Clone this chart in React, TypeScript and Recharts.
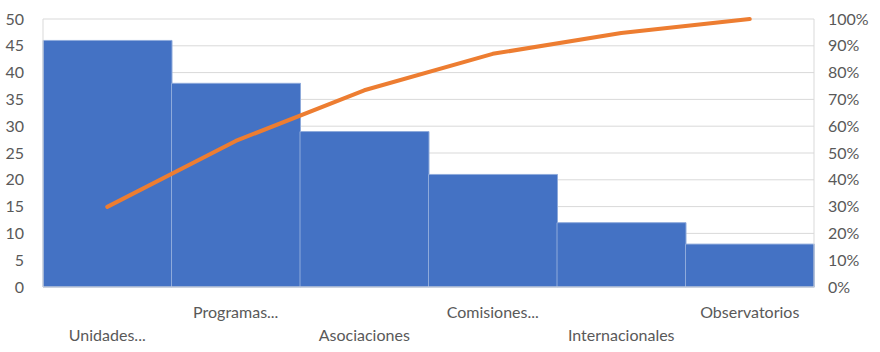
import { Bar, CartesianGrid, ComposedChart, Line, XAxis, YAxis } from 'recharts'

const categories = [
  'Unidades...',
  'Programas...',
  'Asociaciones',
  'Comisiones...',
  'Internacionales',
  'Observatorios',
]
const counts = [46, 38, 29, 21, 12, 8]
const cumulative = [0.299, 0.545, 0.734, 0.87, 0.948, 1.0]
const leftTicks = [0, 5, 10, 15, 20, 25, 30, 35, 40, 45, 50]
const rightTicks = [0, 0.1, 0.2, 0.3, 0.4, 0.5, 0.6, 0.7, 0.8, 0.9, 1]

const data = categories.map((name, i) => ({
  name,
  count: counts[i],
  cum: cumulative[i],
}))

const font = 'Lato, "Open Sans", sans-serif'

function StaggeredTick(props: any) {
  const { x, y, payload, index } = props
  const dy = index % 2 === 0 ? 42 : 19
  return (
    <text
      x={x}
      y={y + dy}
      textAnchor='middle'
      dominantBaseline='middle'
      fill='#595959'
      fontSize={16}
      fontFamily={font}
    >
      {payload.value}
    </text>
  )
}

export default function App() {
  return (
    <div style={{ position: 'absolute', left: 0, top: 0, background: '#fff' }}>
      <ComposedChart
        width={880}
        height={352}
        data={data}
        margin={{ top: 19, right: 0, left: 0, bottom: 0 }}
        barCategoryGap='0%'
      >
        <CartesianGrid
          yAxisId='left'
          vertical={false}
          stroke='#d9d9d9'
          strokeWidth={1}
        />
        <XAxis
          dataKey='name'
          tick={<StaggeredTick />}
          tickLine={false}
          axisLine={{ stroke: '#d9d9d9' }}
          interval={0}
          height={65}
        />
        <YAxis
          yAxisId='left'
          width={43}
          domain={[0, 50]}
          ticks={leftTicks}
          interval={0}
          tickLine={false}
          axisLine={{ stroke: '#d9d9d9' }}
          tickMargin={13}
          tick={{ fill: '#595959', fontSize: 16, fontFamily: font }}
        />
        <YAxis
          yAxisId='right'
          orientation='right'
          width={66}
          domain={[0, 1]}
          ticks={rightTicks}
          interval={0}
          tickLine={false}
          axisLine={{ stroke: '#d9d9d9' }}
          tickMargin={8}
          tickFormatter={(v: number) => `${Math.round(v * 100)}%`}
          tick={{ fill: '#595959', fontSize: 16, fontFamily: font, textAnchor: 'start' }}
        />
        <Bar
          yAxisId='left'
          dataKey='count'
          fill='#4472C4'
          stroke='#8eaadb'
          strokeWidth={1}
          isAnimationActive={false}
        />
        <Line
          yAxisId='right'
          dataKey='cum'
          type='linear'
          stroke='#ED7D31'
          strokeWidth={4}
          strokeLinecap='round'
          strokeLinejoin='round'
          dot={false}
          activeDot={false}
          isAnimationActive={false}
        />
      </ComposedChart>
    </div>
  )
}
